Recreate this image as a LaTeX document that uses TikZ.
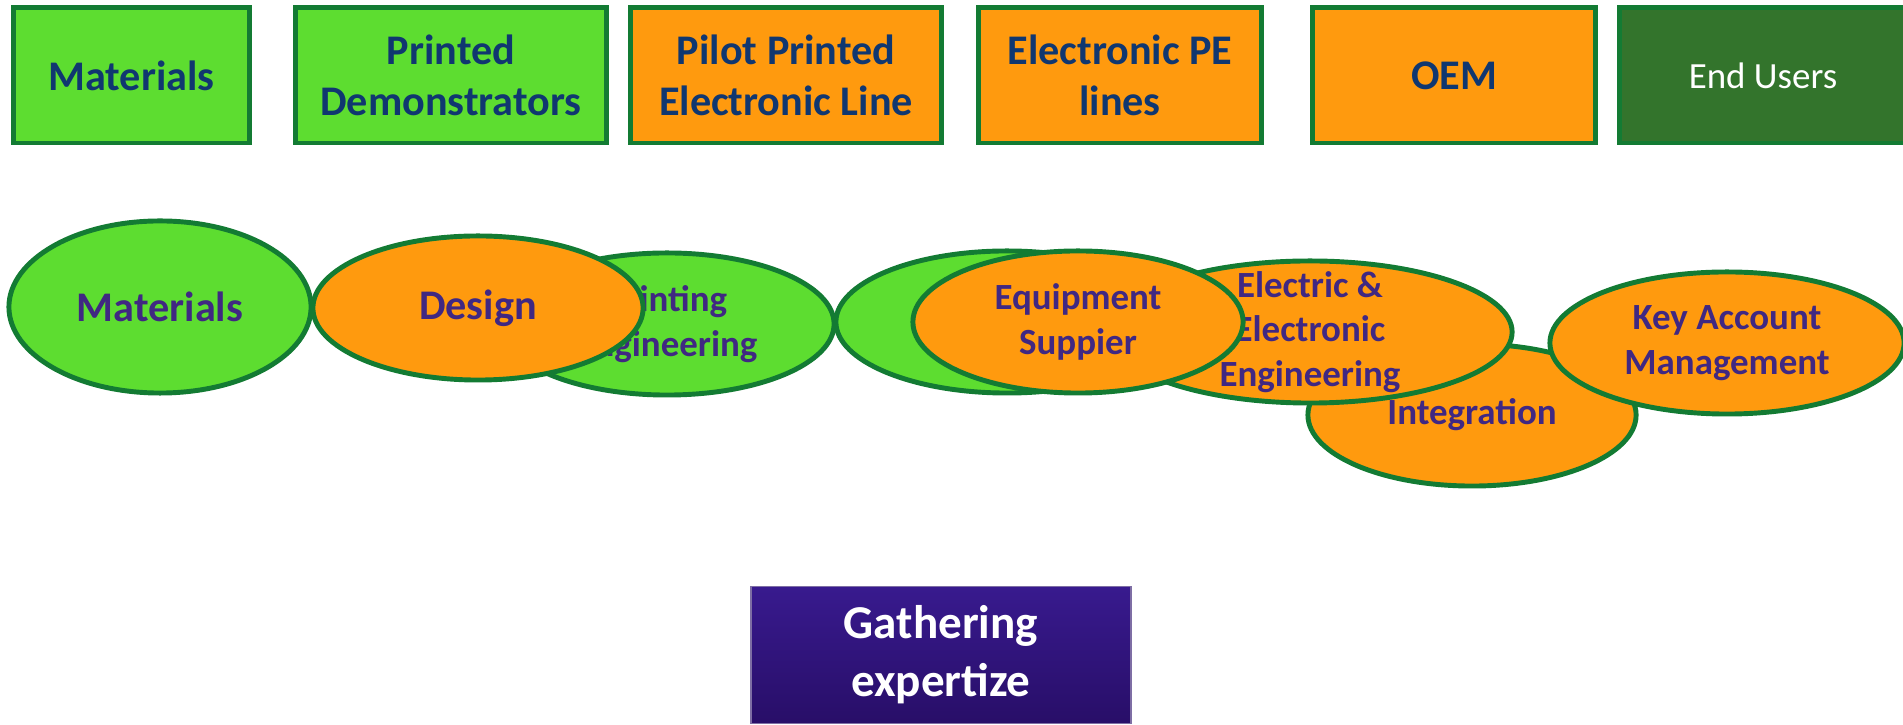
\documentclass[tikz,border=0pt]{standalone}
\usepackage{fontspec}
\setmainfont{Carlito}
\usepackage{tikz}
\usetikzlibrary{shapes.geometric}
\definecolor{leafgreen}{RGB}{93,221,48}
\definecolor{amber}{RGB}{255,154,14}
\definecolor{rimgreen}{RGB}{19,123,51}
\definecolor{forestgreen}{RGB}{51,116,44}
\definecolor{navytext}{RGB}{16,55,112}
\definecolor{plumtext}{RGB}{64,40,130}
\definecolor{indigotop}{RGB}{56,26,142}
\definecolor{indigobot}{RGB}{40,14,104}

\begin{document}
\begin{tikzpicture}[
    x=0.01cm, y=-0.01cm,
    stage/.style={
        rectangle, draw=rimgreen, line width=1.4pt,
        minimum height=1.35cm, align=center, text=navytext,
        font=\fontsize{12}{14.6}\selectfont\bfseries
    },
    skill/.style={
        ellipse, draw=rimgreen, line width=1.4pt, inner sep=0pt,
        minimum height=1.42cm, align=center, text=plumtext,
        font=\fontsize{10.5}{12.8}\selectfont\bfseries
    },
    bigskill/.style={skill, font=\fontsize{12}{13.7}\selectfont\bfseries},
    skilltext/.style={align=center, text=plumtext, inner sep=0pt,
        font=\fontsize{10.5}{12.6}\selectfont\bfseries}
]
\useasboundingbox (0,0) rectangle (1903,725);

% Value chain (top row)
\node[stage, fill=leafgreen, minimum width=2.35cm] (mat)   at (131.5, 75.5) {Materials};
\node[stage, fill=leafgreen, minimum width=3.10cm] (demo)  at (451, 75.5) {Printed\\Demonstrators};
\node[stage, fill=amber, minimum width=3.10cm] (pilot)     at (786, 75.5) {Pilot Printed\\Electronic Line};
\node[stage, fill=amber, minimum width=2.82cm] (pelines)   at (1120, 75.5) {Electronic PE\\lines};
\node[stage, fill=amber, minimum width=2.82cm] (oem)       at (1454, 75.5) {OEM};
\node[stage, fill=forestgreen, minimum width=2.86cm, text=white,
      font=\fontsize{10.5}{12.6}\selectfont] (users)       at (1763, 75.5) {End Users};

% Skills (middle row)
\node[bigskill, fill=leafgreen, minimum width=3.02cm, minimum height=1.72cm] (smat) at (160, 307) {Materials};
\node[skill, fill=leafgreen, minimum width=3.34cm] (sprint) at (667, 324) {Printing\\Engineering};
\node[bigskill, fill=amber, minimum width=3.30cm, minimum height=1.44cm] (sdesign) at (478, 308) {Design};
\node[skill, fill=leafgreen, minimum width=3.42cm] (sblank) at (1007, 322) {};
\node[skill, fill=amber, minimum width=3.28cm] (sinteg) at (1472, 415) {Integration};
\node[skill, fill=amber, minimum width=4.04cm,
      label={[skilltext]center:Electric \&\\Electronic\\Engineering}] (selec) at (1310, 332) {};
\node[skill, fill=amber, minimum width=3.30cm] (sequip) at (1078, 322) {Equipment\\Suppier};
\node[skill, fill=amber, minimum width=3.54cm] (skey) at (1727, 343) {Key Account\\Management};

% Bottom box
\node[rectangle, top color=indigotop, bottom color=indigobot, draw=indigobot!60!white, thin,
      minimum width=3.80cm, minimum height=1.37cm, align=center, text=white,
      font=\fontsize{13.4}{16.4}\selectfont\bfseries] (gather) at (941, 655) {Gathering\\expertize};

\end{tikzpicture}
\end{document}
